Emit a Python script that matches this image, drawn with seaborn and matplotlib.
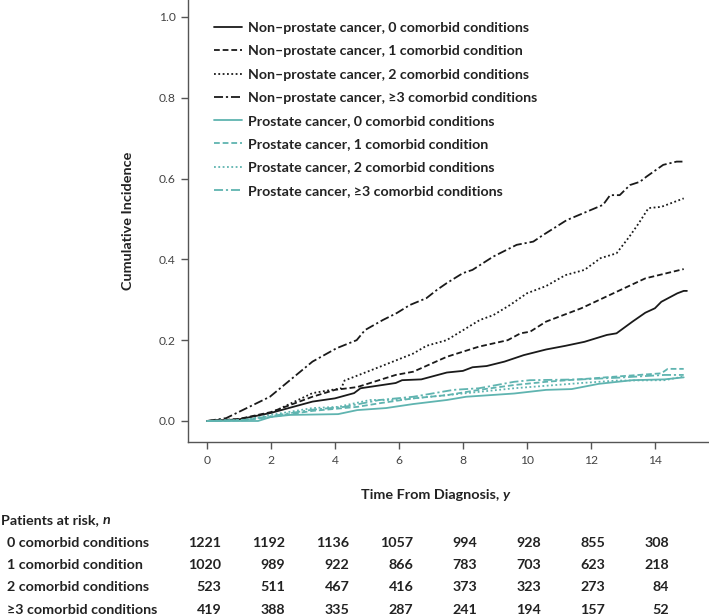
import matplotlib
matplotlib.use("Agg")
import matplotlib.pyplot as plt
import matplotlib.transforms as mtransforms
import seaborn as sns
import pandas as pd

# ---------------- data ----------------
np0_t = [0, 1.0, 2.0, 3.3, 4.0, 4.6, 4.8, 5.9, 6.1, 6.7, 7.5, 8.0, 8.3, 8.74, 9.3, 9.9, 10.6, 11.2, 11.8, 12.5, 12.8, 13.3, 13.7, 14.0, 14.2, 14.7, 14.9, 15.0]
np0_y = [0, 0.004, 0.02, 0.048, 0.056, 0.069, 0.081, 0.094, 0.101, 0.103, 0.12, 0.124, 0.133, 0.136, 0.147, 0.163, 0.177, 0.186, 0.196, 0.213, 0.217, 0.246, 0.268, 0.279, 0.295, 0.316, 0.322, 0.322]

np1_t = [0, 1.0, 2.0, 3.3, 4.0, 4.7, 5.9, 6.45, 7.5, 8.5, 9.4, 9.8, 10.1, 10.6, 11.7, 12.7, 13.7, 14.9]
np1_y = [0, 0.005, 0.022, 0.06, 0.077, 0.084, 0.114, 0.122, 0.159, 0.184, 0.2, 0.217, 0.221, 0.246, 0.279, 0.316, 0.353, 0.376]

np2_t = [0, 1.0, 2.0, 3.3, 4.2, 4.3, 5.4, 6.45, 6.86, 7.49, 8.53, 8.95, 9.47, 10.0, 10.6, 11.2, 11.8, 12.3, 12.8, 13.2, 13.5, 13.8, 14.2, 14.9]
np2_y = [0, 0.004, 0.02, 0.069, 0.081, 0.1, 0.134, 0.167, 0.186, 0.2, 0.25, 0.262, 0.287, 0.316, 0.334, 0.361, 0.374, 0.403, 0.415, 0.456, 0.49, 0.527, 0.53, 0.551]

np3_t = [0, 0.6, 1.97, 3.3, 4.05, 4.68, 4.94, 5.5, 5.93, 6.34, 6.86, 7.18, 7.49, 8.0, 8.3, 8.95, 9.68, 10.2, 10.5, 11.24, 11.87, 12.38, 12.6, 12.9, 13.22, 13.53, 13.74, 14.26, 14.68, 14.86]
np3_y = [0, 0.007, 0.06, 0.147, 0.18, 0.2, 0.225, 0.25, 0.267, 0.287, 0.304, 0.324, 0.341, 0.366, 0.374, 0.407, 0.436, 0.444, 0.46, 0.497, 0.518, 0.535, 0.559, 0.559, 0.584, 0.592, 0.605, 0.634, 0.642, 0.642]

p0_t = [0, 1.6, 2.0, 2.6, 4.1, 4.7, 5.6, 6.45, 7.5, 8.1, 9.6, 10.6, 11.4, 12.25, 13.3, 14.3, 14.9]
p0_y = [0, 0.0, 0.01, 0.015, 0.017, 0.027, 0.032, 0.042, 0.052, 0.06, 0.068, 0.077, 0.079, 0.092, 0.101, 0.103, 0.108]

p1_t = [0, 1.2, 2.0, 3.3, 4.7, 5.4, 6.45, 7.5, 8.5, 9.6, 10.6, 12.8, 14.2, 14.4, 14.9]
p1_y = [0, 0.002, 0.01, 0.025, 0.035, 0.044, 0.056, 0.064, 0.077, 0.089, 0.097, 0.11, 0.118, 0.129, 0.129]

p2_t = [0, 1.2, 2.0, 3.3, 4.1, 5.1, 5.9, 7.5, 9.6, 11.7, 12.8, 14.3, 14.9]
p2_y = [0, 0.003, 0.015, 0.032, 0.035, 0.052, 0.052, 0.064, 0.081, 0.094, 0.1, 0.101, 0.11]

p3_t = [0, 1.2, 2.0, 3.3, 4.3, 5.4, 6.45, 7.7, 8.5, 9.6, 10.1, 11.7, 12.8, 14.3, 14.9]
p3_y = [0, 0.003, 0.012, 0.028, 0.035, 0.052, 0.06, 0.077, 0.081, 0.097, 0.101, 0.103, 0.107, 0.114, 0.114]

series_labels = [
    "Non\u2013prostate cancer, 0 comorbid conditions",
    "Non\u2013prostate cancer, 1 comorbid condition",
    "Non\u2013prostate cancer, 2 comorbid conditions",
    "Non\u2013prostate cancer, \u22653 comorbid conditions",
    "Prostate cancer, 0 comorbid conditions",
    "Prostate cancer, 1 comorbid condition",
    "Prostate cancer, 2 comorbid conditions",
    "Prostate cancer, \u22653 comorbid conditions",
]

risk_times = [0, 2, 4, 6, 8, 10, 12, 14]
risk_rows = ["0 comorbid conditions", "1 comorbid condition", "2 comorbid conditions", "\u22653 comorbid conditions"]
risk_0 = [1221, 1192, 1136, 1057, 994, 928, 855, 308]
risk_1 = [1020, 989, 922, 866, 783, 703, 623, 218]
risk_2 = [523, 511, 467, 416, 373, 323, 273, 84]
risk_3 = [419, 388, 335, 287, 241, 194, 157, 52]

# ---------------- style ----------------
sns.set_style("ticks")
FONT = ["Lato", "DejaVu Sans"]
plt.rcParams["font.family"] = FONT

BLACK = "#1a1a1a"
TEAL = "#5fb4b0"
TXT = "#222222"
W = "bold"

fig = plt.figure(figsize=(7.09, 6.16), dpi=100)
renderer = fig.canvas.get_renderer()


def fit_size(s, target_px, weight=W, style="normal"):
    t = fig.text(0, 0, s, fontsize=10, fontweight=weight, style=style)
    w = t.get_window_extent(renderer).width
    t.remove()
    return 10 * target_px / w


FS_LEG = fit_size(series_labels[0], 280)
FS_TAB = fit_size(risk_rows[0], 142)
FS_LAB = fit_size("Cumulative Incidence", 138)
FS_TICK = fit_size("0.6", 17, weight="normal")

styles = [
    (BLACK, "-"), (BLACK, (0, (3.2, 1.6))), (BLACK, (0, (1, 1.4))), (BLACK, (0, (5, 1.6, 1.2, 1.6))),
    (TEAL, "-"), (TEAL, (0, (3.2, 1.6))), (TEAL, (0, (1, 1.4))), (TEAL, (0, (5, 1.6, 1.2, 1.6))),
]
all_t = [np0_t, np1_t, np2_t, np3_t, p0_t, p1_t, p2_t, p3_t]
all_y = [np0_y, np1_y, np2_y, np3_y, p0_y, p1_y, p2_y, p3_y]

ax = fig.add_axes([188 / 709, 1 - 442 / 616, 521 / 709, 442 / 616])

for t, y, lab, (c, ls) in zip(all_t, all_y, series_labels, styles):
    df = pd.DataFrame({"t": t, "y": y})
    sns.lineplot(data=df, x="t", y="y", ax=ax, color=c, linestyle=ls, linewidth=1.3,
                 label=lab, estimator=None, sort=False)

ax.set_xlim(-0.59, 15.69)
ax.set_ylim(-0.052, 1.042)
ax.set_xticks(risk_times)
ax.set_yticks([0, 0.2, 0.4, 0.6, 0.8, 1.0])
ax.set_yticklabels(["0.0", "0.2", "0.4", "0.6", "0.8", "1.0"])
sns.despine(ax=ax, top=True, right=True)
for s in ("left", "bottom"):
    ax.spines[s].set_color("#555555")
    ax.spines[s].set_linewidth(1.0)
ax.tick_params(axis="both", direction="out", length=5, width=1.0, color="#555555",
               labelsize=FS_TICK, labelcolor="#444444", pad=4)

ax.set_ylabel("Cumulative Incidence", fontsize=FS_LAB, color=TXT, fontweight=W)
ax.yaxis.set_label_coords(-(188 - 134) / 521, 0.5, transform=ax.transAxes)
ax.set_xlabel("Time From Diagnosis, ", fontsize=FS_LAB, color=TXT, fontweight=W)
ax.xaxis.set_label_coords((432 - 188) / 521, -(495 - 442) / 442, transform=ax.transAxes)
ax.xaxis.label.set_va("center")
ax.annotate("y", xy=(1, 0), xycoords=ax.xaxis.label, ha="left", va="bottom",
            fontsize=FS_LAB, color=TXT, fontweight=W, style="italic")

leg = ax.legend(loc="upper left", bbox_to_anchor=((214 - 188) / 521, 1 - 22 / 442), frameon=False,
                fontsize=FS_LEG, handlelength=2.0, handletextpad=0.45, labelspacing=0.8,
                borderaxespad=0, borderpad=0)
for txt in leg.get_texts():
    txt.set_color(TXT)
    txt.set_fontweight(W)

# ---------------- risk table ----------------
tr = mtransforms.blended_transform_factory(ax.transData, fig.transFigure)
t0 = fig.text(1 / 709, 1 - 520 / 616, "Patients at risk, ", fontsize=FS_TAB, color=TXT,
              fontweight=W, va="center", ha="left")
ax.annotate("n", xy=(1, 0), xycoords=t0, ha="left", va="bottom", fontsize=FS_TAB,
            color=TXT, fontweight=W, style="italic")
row_y = [543, 565, 587, 610]
for lab, vals, yy in zip(risk_rows, [risk_0, risk_1, risk_2, risk_3], row_y):
    fig.text(7 / 709, 1 - yy / 616, lab, fontsize=FS_TAB, color=TXT, fontweight=W,
             va="center", ha="left")
    for tt, v in zip(risk_times, vals):
        ax.text(tt + 0.45, 1 - yy / 616, str(v), transform=tr, fontsize=FS_TAB, color=TXT,
                fontweight=W, va="center", ha="right", clip_on=False)

fig.savefig("out.png", dpi=100)
